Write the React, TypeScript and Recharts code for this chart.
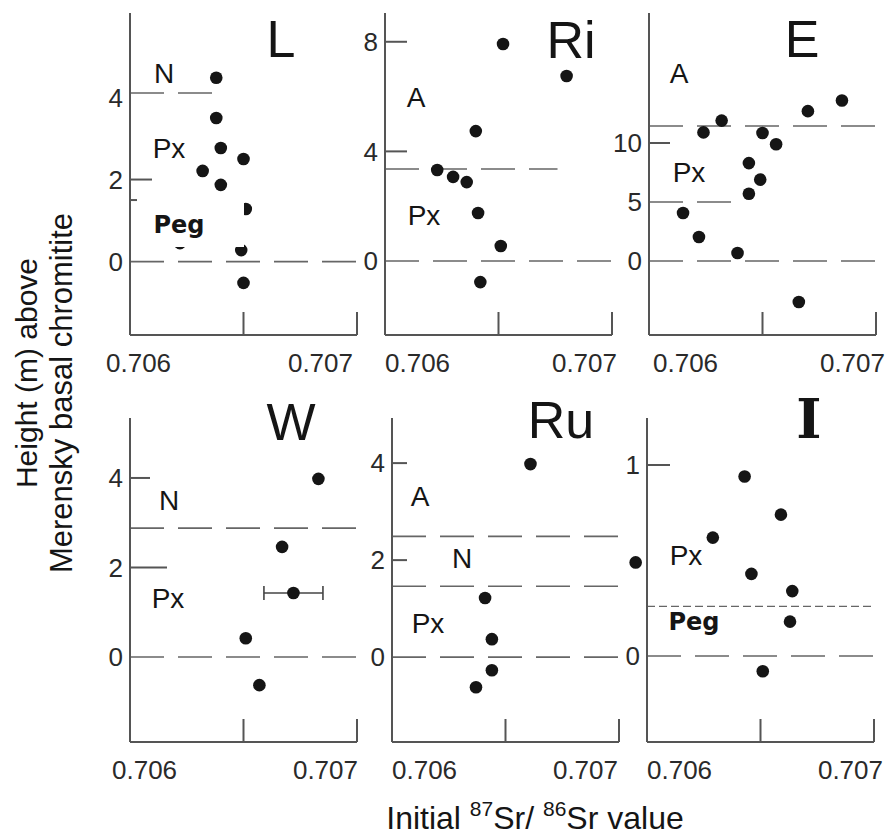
import React from "react";
import {
  ScatterChart,
  Scatter,
  XAxis,
  YAxis,
  ReferenceLine,
  ReferenceDot,
  ErrorBar,
} from "recharts";

// x axis: initial 87Sr/86Sr
const SR_MIN = 0.706;
const SR_MAX = 0.707;
const X_TICKS = [0.706, 0.7065, 0.707];

// L
const L_SR = [0.70638, 0.70638, 0.7064, 0.7065, 0.70632, 0.7064, 0.70651, 0.70649, 0.7065, 0.70622];
const L_H = [4.48, 3.5, 2.77, 2.5, 2.21, 1.87, 1.28, 0.28, -0.52, 0.45];
// Ri
const RI_SR = [0.70652, 0.7068, 0.7064, 0.70623, 0.7063, 0.70636, 0.70641, 0.70651, 0.70642];
const RI_H = [7.92, 6.75, 4.74, 3.32, 3.07, 2.88, 1.75, 0.55, -0.77];
// E
const E_SR = [0.70615, 0.70622, 0.70639, 0.70666, 0.70624, 0.70632, 0.70644, 0.70649, 0.70644, 0.7065, 0.70656, 0.7067, 0.70685];
const E_H = [4.07, 2.03, 0.68, -3.47, 10.9, 11.9, 8.3, 6.9, 5.7, 10.85, 9.9, 12.7, 13.6];
// W
const W_SR = [0.70683, 0.70667, 0.70651, 0.70657];
const W_H = [3.98, 2.46, 0.42, -0.63];
const W_ERR_SR = [0.70672];
const W_ERR_H = [1.43];
const W_ERR = [0.00013];
// Ru
const RU_SR = [0.70661, 0.70641, 0.70644, 0.70644, 0.70637];
const RU_H = [3.98, 1.22, 0.37, -0.27, -0.62];
// I
const I_SR = [0.70643, 0.70659, 0.70629, 0.70646, 0.70664, 0.70663, 0.70651];
const I_H = [0.94, 0.74, 0.62, 0.43, 0.34, 0.18, -0.08];
const I_OUT_SR = 0.70595;
const I_OUT_H = 0.49;

const INK = "#151515";
const AXIS = "#555";
const DASH = "#666";
const TXT = "#2a2a2a";
const FONT = "'Liberation Sans', Arial, sans-serif";
const TICK_FS = 26;

const pts = (sr: number[], h: number[]) => sr.map((x, i) => ({ x, y: h[i] }));

type Contact = { y: number; to?: number; fine?: boolean };

type Panel = {
  name: string;
  left: number;
  top: number;
  height: number;
  yDomain: [number, number];
  yTicks: number[];
  tickLen: number[];
  labelDx: [number, number];
  data: { x: number; y: number }[];
  contacts: Contact[];
};

const PANELS: Panel[] = [
  {
    name: "L", left: 130, top: 13, height: 322, yDomain: [-1.79, 6.06],
    yTicks: [0, 1.5, 2, 4], tickLen: [0, 7, 22, 0], labelDx: [-24, -4],
    data: pts(L_SR, L_H),
    contacts: [{ y: 4.11, to: 0.70639 }, { y: 0 }],
  },
  {
    name: "Ri", left: 385, top: 13, height: 322, yDomain: [-2.7, 9.05],
    yTicks: [0, 4, 8], tickLen: [0, 22, 22], labelDx: [0, 5],
    data: pts(RI_SR, RI_H),
    contacts: [{ y: 3.36, to: 0.70676 }, { y: 0 }],
  },
  {
    name: "E", left: 649, top: 13, height: 322, yDomain: [-6.27, 21.02],
    yTicks: [0, 5, 10], tickLen: [0, 0, 21], labelDx: [4, 9],
    data: pts(E_SR, E_H),
    contacts: [{ y: 11.44 }, { y: 5, to: 0.70639 }, { y: 0 }],
  },
  {
    name: "W", left: 130, top: 418, height: 324, yDomain: [-1.9, 5.34],
    yTicks: [0, 2, 4], tickLen: [0, 37, 20], labelDx: [-18, 1],
    data: pts(W_SR, W_H),
    contacts: [{ y: 2.88 }, { y: 0 }],
  },
  {
    name: "Ru", left: 392, top: 418, height: 324, yDomain: [-1.75, 4.93],
    yTicks: [0, 2, 4], tickLen: [0, 15, 15], labelDx: [0, -1],
    data: pts(RU_SR, RU_H),
    contacts: [{ y: 2.49 }, { y: 1.46 }, { y: 0 }],
  },
  {
    name: "I", left: 647, top: 418, height: 324, yDomain: [-0.45, 1.246],
    yTicks: [0, 1], tickLen: [0, 23], labelDx: [0, 9],
    data: pts(I_SR, I_H),
    contacts: [{ y: 0.26, fine: true }, { y: 0 }],
  },
];

const PLOT_W = 227;
const PAD_L = 70;
const PAD_T = 10;
const PAD_R = 20;
const PAD_B = 50;

const Dot = (p: any) => <circle cx={p.cx} cy={p.cy} r={6.3} fill={INK} />;

const makeXTick = (dx: [number, number]) => (p: any) => {
  const v = p.payload.value;
  const { x, y } = p;
  const isMin = Math.abs(v - SR_MIN) < 1e-9;
  const isMax = Math.abs(v - SR_MAX) < 1e-9;
  return (
    <g>
      {!isMin && <line x1={x} x2={x} y1={y} y2={y - 23} stroke={AXIS} strokeWidth={2} />}
      {(isMin || isMax) && (
        <text
          x={x + (isMin ? dx[0] : dx[1])}
          y={y + 37}
          textAnchor={isMin ? "start" : "end"}
          fontSize={TICK_FS}
          fontFamily={FONT}
          fill={TXT}
        >
          {isMin ? "0.706" : "0.707"}
        </text>
      )}
    </g>
  );
};

const makeYTick = (ticks: number[], lens: number[]) => (p: any) => {
  const v = p.payload.value;
  const i = ticks.indexOf(v);
  const len = i >= 0 ? lens[i] : 0;
  const { x, y } = p;
  return (
    <g>
      {len > 0 && <line x1={x} x2={x + len} y1={y} y2={y} stroke={AXIS} strokeWidth={2} />}
      {Number.isInteger(v) && (
        <text x={x - 7} y={y} dy="0.36em" textAnchor="end" fontSize={TICK_FS} fontFamily={FONT} fill={TXT}>
          {v}
        </text>
      )}
    </g>
  );
};

function PanelChart({ panel }: { panel: Panel }) {
  const w = PAD_L + PLOT_W + PAD_R;
  const h = PAD_T + panel.height + PAD_B;
  return (
    <div style={{ position: "absolute", left: panel.left - PAD_L, top: panel.top - PAD_T }}>
      <ScatterChart width={w} height={h} margin={{ top: PAD_T, right: PAD_R, left: 0, bottom: 0 }}>
        <XAxis
          type="number"
          dataKey="x"
          domain={[SR_MIN, SR_MAX]}
          ticks={X_TICKS}
          interval={0}
          height={PAD_B}
          tickSize={0}
          tickMargin={0}
          tickLine={false}
          tick={makeXTick(panel.labelDx)}
          axisLine={{ stroke: AXIS, strokeWidth: 2 }}
        />
        <YAxis
          type="number"
          dataKey="y"
          domain={panel.yDomain}
          ticks={panel.yTicks}
          interval={0}
          width={PAD_L}
          tickSize={0}
          tickMargin={0}
          tickLine={false}
          tick={makeYTick(panel.yTicks, panel.tickLen)}
          axisLine={{ stroke: AXIS, strokeWidth: 2 }}
        />
        {panel.contacts.map((c, i) =>
          c.to ? (
            <ReferenceLine
              key={i}
              segment={[{ x: SR_MIN, y: c.y }, { x: c.to, y: c.y }]}
              stroke={DASH}
              strokeWidth={1.6}
              strokeDasharray="34 14"
            />
          ) : (
            <ReferenceLine
              key={i}
              y={c.y}
              stroke={DASH}
              strokeWidth={c.fine ? 1.3 : 1.6}
              strokeDasharray={c.fine ? "8 4" : "34 14"}
            />
          )
        )}
        <Scatter data={panel.data} shape={Dot} isAnimationActive={false} />
        {panel.name === "W" && (
          <Scatter
            data={W_ERR_SR.map((x, i) => ({ x, y: W_ERR_H[i], err: W_ERR[i] }))}
            shape={Dot}
            isAnimationActive={false}
          >
            <ErrorBar dataKey="err" direction="x" width={7} stroke="#444" strokeWidth={1.6} />
          </Scatter>
        )}
        {panel.name === "I" && (
          <ReferenceDot x={I_OUT_SR} y={I_OUT_H} r={6.3} fill={INK} stroke="none" ifOverflow="visible" />
        )}
      </ScatterChart>
    </div>
  );
}

const TITLES = [
  { t: "L", x: 281, y: 57 },
  { t: "Ri", x: 571, y: 58 },
  { t: "E", x: 802, y: 57 },
  { t: "W", x: 291, y: 440 },
  { t: "Ru", x: 561, y: 438 },
];

const ZONES = [
  { t: "N", x: 164, y: 83 },
  { t: "Px", x: 169, y: 158 },
  { t: "A", x: 416, y: 107 },
  { t: "Px", x: 424, y: 225 },
  { t: "A", x: 679, y: 83 },
  { t: "Px", x: 689, y: 182 },
  { t: "N", x: 169, y: 510 },
  { t: "Px", x: 168, y: 608 },
  { t: "A", x: 420, y: 506 },
  { t: "N", x: 462, y: 568 },
  { t: "Px", x: 428, y: 633 },
  { t: "Px", x: 686, y: 565 },
];

const PEGS = [
  { x: 179, y: 233 },
  { x: 694, y: 630 },
];

export default function App() {
  return (
    <div style={{ position: "absolute", left: 0, top: 0, width: 888, height: 838, background: "#fff" }}>
      {PANELS.map((p) => (
        <PanelChart key={p.name} panel={p} />
      ))}
      <svg
        width={888}
        height={838}
        style={{ position: "absolute", left: 0, top: 0, pointerEvents: "none" }}
      >
        <rect x={140} y={197} width={104} height={50} fill="#fff" />
        {TITLES.map((d) => (
          <text key={d.t} x={d.x} y={d.y} textAnchor="middle" fontSize={52} fontFamily={FONT} fill={INK}>
            {d.t}
          </text>
        ))}
        <text x={809} y={438} textAnchor="middle" fontSize={54} fontWeight="bold" fontFamily="'DejaVu Serif', serif" fill={INK}>
          I
        </text>
        {ZONES.map((d, i) => (
          <text key={i} x={d.x} y={d.y} textAnchor="middle" fontSize={28} fontFamily={FONT} fill={INK}>
            {d.t}
          </text>
        ))}
        {PEGS.map((d, i) => (
          <text key={i} x={d.x} y={d.y} textAnchor="middle" fontSize={24} fontWeight="bold" fontFamily="'DejaVu Sans', sans-serif" fill={INK}>
            Peg
          </text>
        ))}
        <text transform="translate(37,373) rotate(-90)" textAnchor="middle" fontSize={30} fontFamily={FONT} fill={INK}>
          Height (m) above
        </text>
        <text transform="translate(72,393) rotate(-90)" textAnchor="middle" fontSize={31} fontFamily={FONT} fill={INK}>
          Merensky basal chromitite
        </text>
        <text x={535} y={829} textAnchor="middle" fontSize={32} fontFamily={FONT} fill={INK}>
          Initial{" "}
          <tspan fontSize={21} dy={-13}>87</tspan>
          <tspan dy={13}>Sr/ </tspan>
          <tspan fontSize={21} dy={-13}>86</tspan>
          <tspan dy={13}>Sr value</tspan>
        </text>
      </svg>
    </div>
  );
}
